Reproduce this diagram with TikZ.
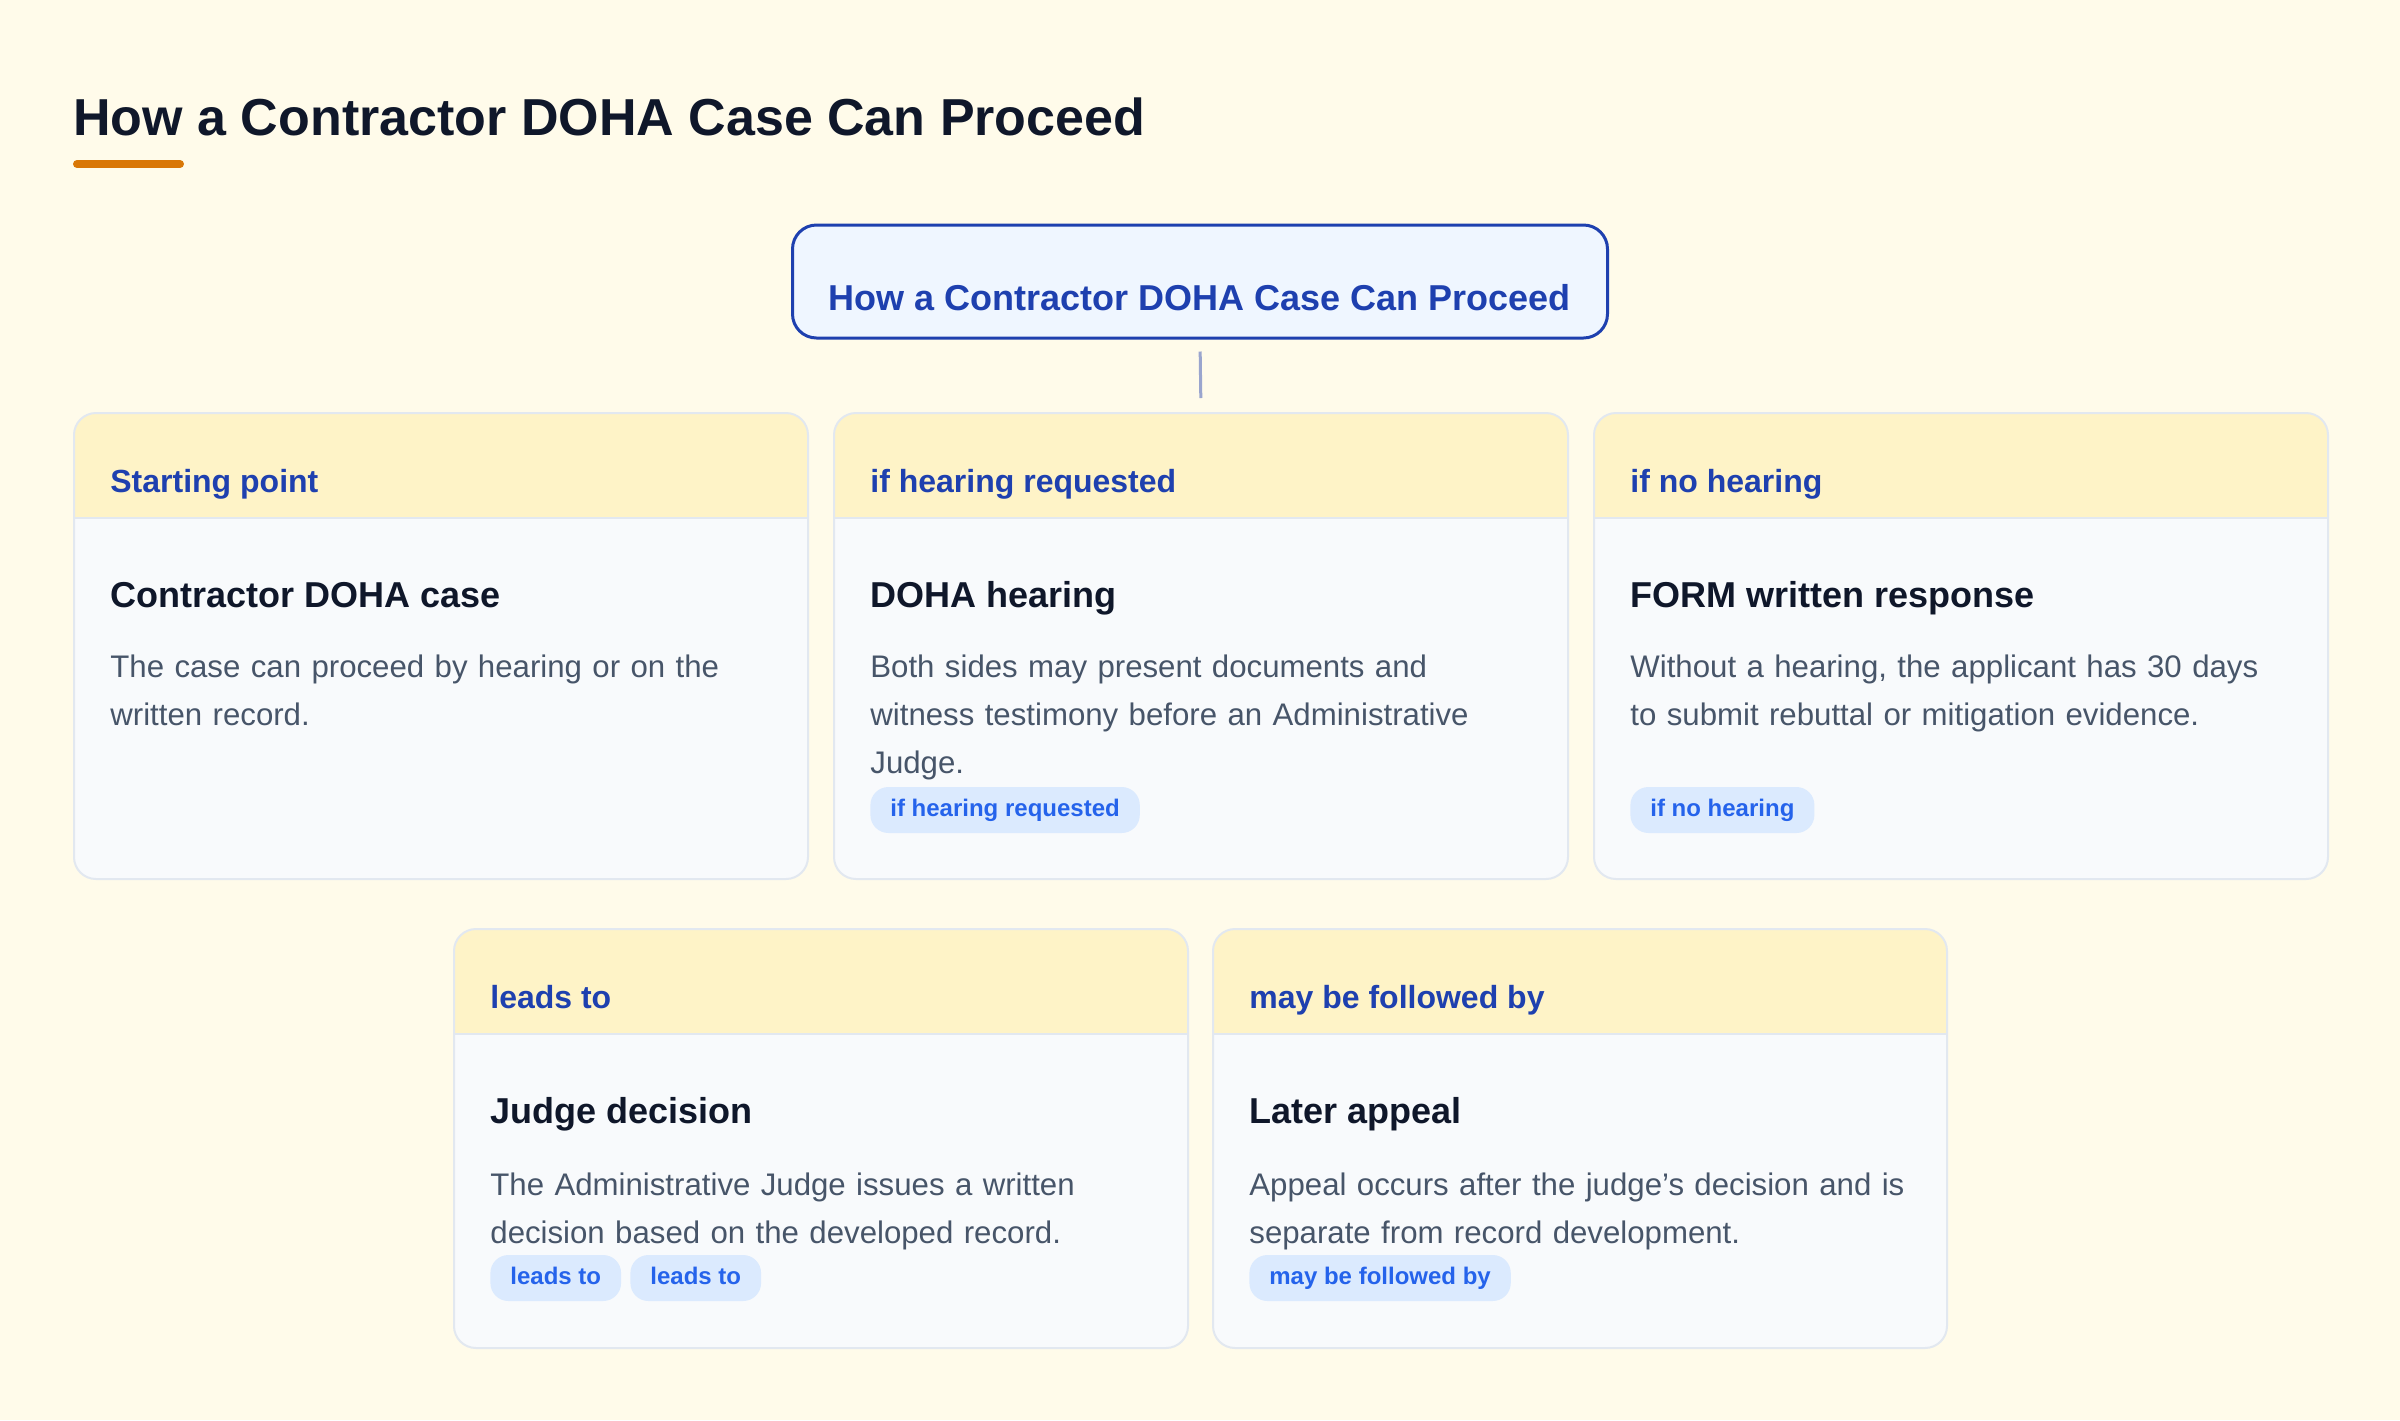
\documentclass[tikz,border=0pt]{standalone}
\usepackage{fontspec}
\setmainfont{Liberation Sans}
\definecolor{bg}{HTML}{FFFBEA}
\definecolor{ink}{HTML}{0F172A}
\definecolor{accent}{HTML}{D97706}
\definecolor{navy}{HTML}{1E40AF}
\definecolor{mainfill}{HTML}{EFF6FF}
\definecolor{conn}{HTML}{9AA5CE}
\definecolor{hdrfill}{HTML}{FEF3C7}
\definecolor{cardbody}{HTML}{F8FAFC}
\definecolor{cardline}{HTML}{E2E8F0}
\definecolor{desc}{HTML}{475569}
\definecolor{pillbg}{HTML}{DBEAFE}
\definecolor{pillfg}{HTML}{2563EB}
\begin{document}
\begin{tikzpicture}[x=0.5pt,y=-0.5pt,
  card/.style={draw=cardline, line width=1pt, fill=cardbody, rounded corners=11pt,
    anchor=north west, minimum width=367pt, inner sep=0pt,
    path picture={\fill[hdrfill, sharp corners] (path picture bounding box.north west) rectangle ([yshift=-52.5pt]path picture bounding box.north east);
      \draw[cardline, line width=1pt, sharp corners] ([yshift=-52.5pt]path picture bounding box.north west) -- ([yshift=-52.5pt]path picture bounding box.north east);}},
  topcard/.style={card, minimum height=233pt},
  botcard/.style={card, minimum height=209.5pt},
  mainbox/.style={draw=navy, line width=1.5pt, fill=mainfill, rounded corners=12pt, inner sep=0pt},
  maintxt/.style={anchor=base, inner sep=0pt, text=navy, font=\fontsize{18}{22}\selectfont\bfseries},
  hdrtxt/.style={anchor=base west, inner sep=0pt, text=navy, font=\fontsize{16}{20}\selectfont\bfseries},
  ttltxt/.style={anchor=base west, inner sep=0pt, text=ink, font=\fontsize{18}{22}\selectfont\bfseries},
  desctxt/.style={anchor=base west, inner sep=0pt, text=desc, text width=345pt, align=left, font=\fontsize{15.6}{24}\selectfont},
  pill/.style={anchor=west, fill=pillbg, rounded corners=9pt, text=pillfg, inner xsep=10pt, inner ysep=0pt,
    minimum height=23pt, text height=8.8pt, text depth=2.6pt, font=\fontsize{12}{14}\selectfont\bfseries},
  connector/.style={draw=conn, line width=1.5pt}
]
\useasboundingbox (0,0) rectangle (2400,1420);
\fill[bg] (0,0) rectangle (2400,1420);

% page title
\node[anchor=base west, inner sep=0pt, text=ink, font=\fontsize{26}{30}\selectfont\bfseries] (title) at (73,135) {How a Contractor DOHA Case Can Proceed};
\coordinate (barL) at (77,164);
\coordinate (barR) at (180,164);
\draw[accent, line width=4pt, line cap=round] (barL) -- (barR);

% main box
\node[mainbox, minimum width=407.5pt, minimum height=56.5pt] (main) at (1200,281.5) {};
\node[maintxt] (maintext) at (1200,310) {How a Contractor DOHA Case Can Proceed};

% top row cards
\node[topcard] (c1) at (73,412) {};
\node[topcard] (c2) at (833,412) {};
\node[topcard] (c3) at (1593,412) {};

% bottom row cards
\node[botcard] (c4) at (453,928) {};
\node[botcard] (c5) at (1212,928) {};

% connector
\draw[connector, shorten <=6pt, shorten >=7pt] (main.south) -- (c2.north);

% card 1
\node[hdrtxt] (h1) at (110,492) {Starting point};
\node[ttltxt] (t1) at (110,607) {Contractor DOHA case};
\node[desctxt] (d1) at (110,677) {The case can proceed by hearing or on the\\written record.};

% card 2
\node[hdrtxt] (h2) at (870,492) {if hearing requested};
\node[ttltxt] (t2) at (870,607) {DOHA hearing};
\node[desctxt] (d2) at (870,677) {Both sides may present documents and\\witness testimony before an Administrative\\Judge.};
\node[pill] (p2) at (870,810) {if hearing requested};

% card 3
\node[hdrtxt] (h3) at (1630,492) {if no hearing};
\node[ttltxt] (t3) at (1630,607) {FORM written response};
\node[desctxt] (d3) at (1630,677) {Without a hearing, the applicant has 30 days\\to submit rebuttal or mitigation evidence.};
\node[pill] (p3) at (1630,810) {if no hearing};

% card 4
\node[hdrtxt] (h4) at (490,1008) {leads to};
\node[ttltxt] (t4) at (490,1123) {Judge decision};
\node[desctxt] (d4) at (490,1195) {The Administrative Judge issues a written\\decision based on the developed record.};
\node[pill] (p4a) at (490,1278) {leads to};
\node[pill] (p4b) at (630,1278) {leads to};

% card 5
\node[hdrtxt] (h5) at (1249,1008) {may be followed by};
\node[ttltxt] (t5) at (1249,1123) {Later appeal};
\node[desctxt] (d5) at (1249,1195) {Appeal occurs after the judge’s decision and is\\separate from record development.};
\node[pill] (p5) at (1249,1278) {may be followed by};
\end{tikzpicture}
\end{document}
